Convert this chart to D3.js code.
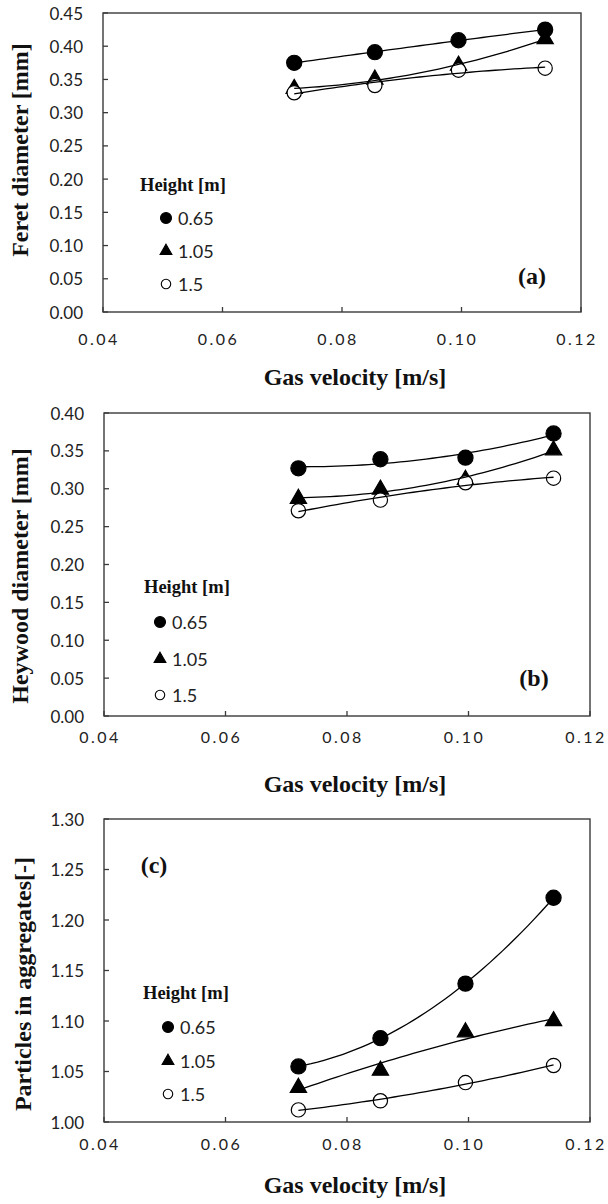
<!DOCTYPE html>
<html>
<head>
<meta charset="utf-8">
<script src="https://cdn.jsdelivr.net/npm/d3@7"></script>
<style>
  body { margin: 0; background: #fff; }
  svg { display: block; }
  .tick-y { font-family: Lato, "Open Sans", sans-serif; font-size: 17px; fill: #222; }
  .tick-x { font-family: Lato, "Open Sans", sans-serif; font-size: 16px; fill: #222; letter-spacing: 2.5px; }
  .serif-b { font-family: "Liberation Serif", "Times New Roman", serif; font-weight: bold; fill: #111; }
  .leg { font-family: Lato, "Open Sans", sans-serif; font-size: 18px; fill: #222; }
</style>
</head>
<body>
<div id="chart"></div>
<script>
// gas velocity values (m/s) shared by all panels
const xVel = [0.072, 0.0855, 0.0995, 0.114];
const xTicks = [0.04, 0.06, 0.08, 0.10, 0.12];
const heights = ["0.65", "1.05", "1.5"];

// (a) Feret diameter [mm]
const feret065 = [0.375, 0.391, 0.409, 0.425];
const feret105 = [0.336, 0.350, 0.371, 0.411];
const feret150 = [0.330, 0.341, 0.364, 0.367];

// (b) Heywood diameter [mm]
const heywood065 = [0.327, 0.339, 0.341, 0.373];
const heywood105 = [0.287, 0.299, 0.312, 0.351];
const heywood150 = [0.271, 0.285, 0.308, 0.314];

// (c) particles in aggregates [-]
const aggr065 = [1.055, 1.083, 1.137, 1.222];
const aggr105 = [1.034, 1.051, 1.089, 1.100];
const aggr150 = [1.012, 1.021, 1.039, 1.056];

const yTicksA = d3.range(0, 0.4501, 0.05);
const yTicksB = d3.range(0, 0.4001, 0.05);
const yTicksC = d3.range(1.0, 1.3001, 0.05);

const width = 608, height = 1204;

const svg = d3.select("#chart")
  .append("svg")
  .attr("width", width)
  .attr("height", height);

// excel style 2nd order polynomial trendline
function polyFit(xs, ys) {
  const mx = d3.mean(xs);
  const u = xs.map(x => x - mx);
  let s = [0, 0, 0, 0, 0], t = [0, 0, 0];
  u.forEach((x, i) => {
    for (let k = 0; k < 5; k++) s[k] += Math.pow(x, k);
    for (let k = 0; k < 3; k++) t[k] += ys[i] * Math.pow(x, k);
  });
  const M = [[s[0], s[1], s[2]], [s[1], s[2], s[3]], [s[2], s[3], s[4]]];
  const det = m => m[0][0] * (m[1][1] * m[2][2] - m[1][2] * m[2][1])
    - m[0][1] * (m[1][0] * m[2][2] - m[1][2] * m[2][0])
    + m[0][2] * (m[1][0] * m[2][1] - m[1][1] * m[2][0]);
  const D = det(M);
  const c = [0, 1, 2].map(j => {
    const Mj = M.map((row, r) => row.map((v, col) => col === j ? t[r] : v));
    return det(Mj) / D;
  });
  return x => c[0] + c[1] * (x - mx) + c[2] * (x - mx) * (x - mx);
}

const panels = [
  { series: [feret065, feret105, feret150], yDomain: [0, 0.45], yTicks: yTicksA,
    box: { l: 103, r: 581, t: 13, b: 312 }, title: "Feret diameter [mm]",
    titleX: 20, titleY: 150, xLab: 338, xTitle: 377, tag: "(a)", tagX: 532, tagY: 276,
    legX: 140, legY: 185, legRows: [218, 251, 284], legSym: 166 },
  { series: [heywood065, heywood105, heywood150], yDomain: [0, 0.40], yTicks: yTicksB,
    box: { l: 104, r: 590, t: 413, b: 716 }, title: "Heywood diameter [mm]",
    titleX: 20, titleY: 576, xLab: 736, xTitle: 784, tag: "(b)", tagX: 534, tagY: 678,
    legX: 144, legY: 587, legRows: [622, 659, 695], legSym: 160 },
  { series: [aggr065, aggr105, aggr150], yDomain: [1.0, 1.30], yTicks: yTicksC,
    box: { l: 104, r: 590, t: 819, b: 1122 }, title: "Particles in aggregates[-]",
    titleX: 23, titleY: 984, xLab: 1143, xTitle: 1185, tag: "(c)", tagX: 154, tagY: 865,
    legX: 143, legY: 993, legRows: [1027, 1061, 1094], legSym: 168 }
];

const markers = [
  { type: d3.symbolCircle, size: 180, fill: "#000", lsize: 95 },
  { type: d3.symbolTriangle, size: 115, fill: "#000", lsize: 60 },
  { type: d3.symbolCircle, size: 160, fill: "#fff", lsize: 70 }
];

panels.forEach(p => {
  const g = svg.append("g");
  const x = d3.scaleLinear().domain([0.04, 0.12]).range([p.box.l, p.box.r]);
  const y = d3.scaleLinear().domain(p.yDomain).range([p.box.b, p.box.t]);

  // frame
  g.append("rect")
    .attr("x", p.box.l).attr("y", p.box.t)
    .attr("width", p.box.r - p.box.l).attr("height", p.box.b - p.box.t)
    .attr("fill", "none").attr("stroke", "#3a3a3a").attr("stroke-width", 1.4);

  // inside ticks
  g.append("g").selectAll("line").data(p.yTicks).join("line")
    .attr("x1", p.box.l).attr("x2", p.box.l + 5)
    .attr("y1", d => y(d)).attr("y2", d => y(d))
    .attr("stroke", "#3a3a3a").attr("stroke-width", 1.3);
  g.append("g").selectAll("line").data(xTicks).join("line")
    .attr("x1", d => x(d)).attr("x2", d => x(d))
    .attr("y1", p.box.b).attr("y2", p.box.b - 5)
    .attr("stroke", "#3a3a3a").attr("stroke-width", 1.3);

  g.append("g").selectAll("text").data(p.yTicks).join("text")
    .attr("class", "tick-y")
    .attr("x", p.box.l - 20).attr("y", d => y(d))
    .attr("text-anchor", "end").attr("dominant-baseline", "central")
    .text(d => d3.format(".2f")(d));
  g.append("g").selectAll("text").data(xTicks).join("text")
    .attr("class", "tick-x")
    .attr("x", d => x(d) - 4).attr("y", p.xLab)
    .attr("text-anchor", "middle").attr("dominant-baseline", "central")
    .text(d => d3.format(".2f")(d));

  // axis titles
  g.append("text").attr("class", "serif-b")
    .attr("transform", `translate(${p.titleX},${p.titleY}) rotate(-90)`)
    .attr("text-anchor", "middle").attr("dominant-baseline", "central")
    .style("font-size", "24px")
    .text(p.title);
  g.append("text").attr("class", "serif-b")
    .attr("x", 355).attr("y", p.xTitle)
    .attr("text-anchor", "middle").attr("dominant-baseline", "central")
    .style("font-size", "24px")
    .text("Gas velocity [m/s]");

  g.append("text").attr("class", "serif-b")
    .attr("x", p.tagX).attr("y", p.tagY)
    .attr("text-anchor", "middle").attr("dominant-baseline", "central")
    .style("font-size", "24px")
    .text(p.tag);

  // markers first, trendlines over them
  p.series.forEach((s, i) => {
    const m = markers[i];
    g.append("g").selectAll("path").data(s).join("path")
      .attr("d", d3.symbol(m.type, m.size))
      .attr("transform", (d, j) => `translate(${x(xVel[j])},${y(d)})`)
      .attr("fill", m.fill).attr("stroke", "#000").attr("stroke-width", 1.2);
  });
  p.series.forEach(s => {
    const f = polyFit(xVel, s);
    const xs = d3.range(xVel[0], xVel[3] + 1e-9, (xVel[3] - xVel[0]) / 40);
    g.append("path")
      .datum(xs)
      .attr("d", d3.line().x(d => x(d)).y(d => y(f(d))))
      .attr("fill", "none").attr("stroke", "#000").attr("stroke-width", 1.3);
  });

  // legend
  g.append("text").attr("class", "serif-b")
    .attr("x", p.legX).attr("y", p.legY)
    .attr("dominant-baseline", "central")
    .style("font-size", "18.5px")
    .text("Height [m]");
  heights.forEach((h, i) => {
    const m = markers[i];
    g.append("path")
      .attr("d", d3.symbol(m.type, m.lsize))
      .attr("transform", `translate(${p.legSym},${p.legRows[i]})`)
      .attr("fill", m.fill).attr("stroke", "#000").attr("stroke-width", 1.1);
    g.append("text").attr("class", "leg")
      .attr("x", p.legSym + 12).attr("y", p.legRows[i])
      .attr("dominant-baseline", "central")
      .text(h);
  });
});
</script>
</body>
</html>
